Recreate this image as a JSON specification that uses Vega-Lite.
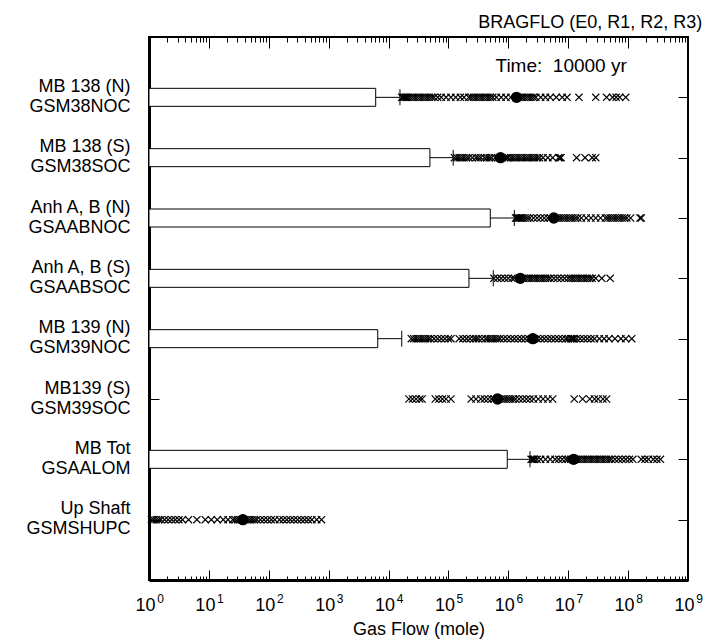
{
  "$schema": "https://vega.github.io/schema/vega-lite/v6.json",
  "width": 539,
  "height": 543,
  "autosize": "none",
  "padding": {"left": 149, "top": 37, "right": 18, "bottom": 59},
  "background": "white",
  "config": {
    "view": {"stroke": "black", "strokeWidth": 2},
    "font": "Liberation Sans",
    "axis": {"grid": false, "labelFont": "Liberation Sans", "titleFont": "Liberation Sans", "labelColor": "black", "titleColor": "black", "tickColor": "black", "domainColor": "black", "labelFontSize": 18, "titleFontSize": 18, "titleFontWeight": "normal"}
  },
  "title": {"text": "BRAGFLO (E0, R1, R2, R3)", "anchor": "end", "fontSize": 18, "fontWeight": "normal", "font": "Liberation Sans", "color": "black", "offset": 5},
  "datasets": {
    "bars": [
      {"row": "MB 138 (N)|GSM38NOC", "bar": 6100, "cap": 15500},
      {"row": "MB 138 (S)|GSM38SOC", "bar": 49000, "cap": 120000},
      {"row": "Anh A, B (N)|GSAABNOC", "bar": 500000, "cap": 1260000},
      {"row": "Anh A, B (S)|GSAABSOC", "bar": 220000, "cap": 560000},
      {"row": "MB 139 (N)|GSM39NOC", "bar": 6600, "cap": 16600},
      {"row": "MB Tot|GSAALOM", "bar": 960000, "cap": 2300000}
    ],
    "means": [
      {"row": "MB 138 (N)|GSM38NOC", "mean": 1370000},
      {"row": "MB 138 (S)|GSM38SOC", "mean": 740000},
      {"row": "Anh A, B (N)|GSAABNOC", "mean": 5750000},
      {"row": "Anh A, B (S)|GSAABSOC", "mean": 1580000},
      {"row": "MB 139 (N)|GSM39NOC", "mean": 2570000},
      {"row": "MB139 (S)|GSM39SOC", "mean": 660000},
      {"row": "MB Tot|GSAALOM", "mean": 12300000},
      {"row": "Up Shaft|GSMSHUPC", "mean": 37}
    ],
    "pts": [
      {"row": "MB 138 (N)|GSM38NOC", "flow": 1.66e4},
      {"row": "MB 138 (N)|GSM38NOC", "flow": 1.74e4},
      {"row": "MB 138 (N)|GSM38NOC", "flow": 1.82e4},
      {"row": "MB 138 (N)|GSM38NOC", "flow": 1.91e4},
      {"row": "MB 138 (N)|GSM38NOC", "flow": 2.00e4},
      {"row": "MB 138 (N)|GSM38NOC", "flow": 2.09e4},
      {"row": "MB 138 (N)|GSM38NOC", "flow": 2.29e4},
      {"row": "MB 138 (N)|GSM38NOC", "flow": 2.51e4},
      {"row": "MB 138 (N)|GSM38NOC", "flow": 2.75e4},
      {"row": "MB 138 (N)|GSM38NOC", "flow": 3.02e4},
      {"row": "MB 138 (N)|GSM38NOC", "flow": 3.31e4},
      {"row": "MB 138 (N)|GSM38NOC", "flow": 3.63e4},
      {"row": "MB 138 (N)|GSM38NOC", "flow": 3.98e4},
      {"row": "MB 138 (N)|GSM38NOC", "flow": 4.37e4},
      {"row": "MB 138 (N)|GSM38NOC", "flow": 4.79e4},
      {"row": "MB 138 (N)|GSM38NOC", "flow": 5.25e4},
      {"row": "MB 138 (N)|GSM38NOC", "flow": 5.75e4},
      {"row": "MB 138 (N)|GSM38NOC", "flow": 6.61e4},
      {"row": "MB 138 (N)|GSM38NOC", "flow": 7.59e4},
      {"row": "MB 138 (N)|GSM38NOC", "flow": 9.12e4},
      {"row": "MB 138 (N)|GSM38NOC", "flow": 1.10e5},
      {"row": "MB 138 (N)|GSM38NOC", "flow": 1.32e5},
      {"row": "MB 138 (N)|GSM38NOC", "flow": 1.58e5},
      {"row": "MB 138 (N)|GSM38NOC", "flow": 1.82e5},
      {"row": "MB 138 (N)|GSM38NOC", "flow": 2.19e5},
      {"row": "MB 138 (N)|GSM38NOC", "flow": 2.40e5},
      {"row": "MB 138 (N)|GSM38NOC", "flow": 2.63e5},
      {"row": "MB 138 (N)|GSM38NOC", "flow": 2.88e5},
      {"row": "MB 138 (N)|GSM38NOC", "flow": 3.16e5},
      {"row": "MB 138 (N)|GSM38NOC", "flow": 3.47e5},
      {"row": "MB 138 (N)|GSM38NOC", "flow": 3.80e5},
      {"row": "MB 138 (N)|GSM38NOC", "flow": 4.17e5},
      {"row": "MB 138 (N)|GSM38NOC", "flow": 4.57e5},
      {"row": "MB 138 (N)|GSM38NOC", "flow": 5.01e5},
      {"row": "MB 138 (N)|GSM38NOC", "flow": 5.50e5},
      {"row": "MB 138 (N)|GSM38NOC", "flow": 6.31e5},
      {"row": "MB 138 (N)|GSM38NOC", "flow": 7.59e5},
      {"row": "MB 138 (N)|GSM38NOC", "flow": 9.12e5},
      {"row": "MB 138 (N)|GSM38NOC", "flow": 1.10e6},
      {"row": "MB 138 (N)|GSM38NOC", "flow": 1.51e6},
      {"row": "MB 138 (N)|GSM38NOC", "flow": 1.66e6},
      {"row": "MB 138 (N)|GSM38NOC", "flow": 1.82e6},
      {"row": "MB 138 (N)|GSM38NOC", "flow": 2.00e6},
      {"row": "MB 138 (N)|GSM38NOC", "flow": 2.19e6},
      {"row": "MB 138 (N)|GSM38NOC", "flow": 2.40e6},
      {"row": "MB 138 (N)|GSM38NOC", "flow": 2.63e6},
      {"row": "MB 138 (N)|GSM38NOC", "flow": 2.88e6},
      {"row": "MB 138 (N)|GSM38NOC", "flow": 3.47e6},
      {"row": "MB 138 (N)|GSM38NOC", "flow": 4.17e6},
      {"row": "MB 138 (N)|GSM38NOC", "flow": 5.01e6},
      {"row": "MB 138 (N)|GSM38NOC", "flow": 6.31e6},
      {"row": "MB 138 (N)|GSM38NOC", "flow": 7.94e6},
      {"row": "MB 138 (N)|GSM38NOC", "flow": 9.55e6},
      {"row": "MB 138 (N)|GSM38NOC", "flow": 1.51e7},
      {"row": "MB 138 (N)|GSM38NOC", "flow": 2.88e7},
      {"row": "MB 138 (N)|GSM38NOC", "flow": 4.37e7},
      {"row": "MB 138 (N)|GSM38NOC", "flow": 5.50e7},
      {"row": "MB 138 (N)|GSM38NOC", "flow": 6.31e7},
      {"row": "MB 138 (N)|GSM38NOC", "flow": 7.24e7},
      {"row": "MB 138 (N)|GSM38NOC", "flow": 9.12e7},

      {"row": "MB 138 (S)|GSM38SOC", "flow": 1.26e5},
      {"row": "MB 138 (S)|GSM38SOC", "flow": 1.38e5},
      {"row": "MB 138 (S)|GSM38SOC", "flow": 1.51e5},
      {"row": "MB 138 (S)|GSM38SOC", "flow": 1.66e5},
      {"row": "MB 138 (S)|GSM38SOC", "flow": 1.82e5},
      {"row": "MB 138 (S)|GSM38SOC", "flow": 2.00e5},
      {"row": "MB 138 (S)|GSM38SOC", "flow": 2.19e5},
      {"row": "MB 138 (S)|GSM38SOC", "flow": 2.51e5},
      {"row": "MB 138 (S)|GSM38SOC", "flow": 2.88e5},
      {"row": "MB 138 (S)|GSM38SOC", "flow": 3.16e5},
      {"row": "MB 138 (S)|GSM38SOC", "flow": 3.47e5},
      {"row": "MB 138 (S)|GSM38SOC", "flow": 3.98e5},
      {"row": "MB 138 (S)|GSM38SOC", "flow": 4.37e5},
      {"row": "MB 138 (S)|GSM38SOC", "flow": 4.79e5},
      {"row": "MB 138 (S)|GSM38SOC", "flow": 5.25e5},
      {"row": "MB 138 (S)|GSM38SOC", "flow": 6.03e5},
      {"row": "MB 138 (S)|GSM38SOC", "flow": 6.61e5},
      {"row": "MB 138 (S)|GSM38SOC", "flow": 8.71e5},
      {"row": "MB 138 (S)|GSM38SOC", "flow": 9.55e5},
      {"row": "MB 138 (S)|GSM38SOC", "flow": 1.00e6},
      {"row": "MB 138 (S)|GSM38SOC", "flow": 1.10e6},
      {"row": "MB 138 (S)|GSM38SOC", "flow": 1.20e6},
      {"row": "MB 138 (S)|GSM38SOC", "flow": 1.32e6},
      {"row": "MB 138 (S)|GSM38SOC", "flow": 1.45e6},
      {"row": "MB 138 (S)|GSM38SOC", "flow": 1.58e6},
      {"row": "MB 138 (S)|GSM38SOC", "flow": 1.74e6},
      {"row": "MB 138 (S)|GSM38SOC", "flow": 1.91e6},
      {"row": "MB 138 (S)|GSM38SOC", "flow": 2.09e6},
      {"row": "MB 138 (S)|GSM38SOC", "flow": 2.29e6},
      {"row": "MB 138 (S)|GSM38SOC", "flow": 2.51e6},
      {"row": "MB 138 (S)|GSM38SOC", "flow": 2.75e6},
      {"row": "MB 138 (S)|GSM38SOC", "flow": 3.02e6},
      {"row": "MB 138 (S)|GSM38SOC", "flow": 3.31e6},
      {"row": "MB 138 (S)|GSM38SOC", "flow": 3.80e6},
      {"row": "MB 138 (S)|GSM38SOC", "flow": 4.57e6},
      {"row": "MB 138 (S)|GSM38SOC", "flow": 5.50e6},
      {"row": "MB 138 (S)|GSM38SOC", "flow": 6.92e6},
      {"row": "MB 138 (S)|GSM38SOC", "flow": 7.24e6},
      {"row": "MB 138 (S)|GSM38SOC", "flow": 7.59e6},
      {"row": "MB 138 (S)|GSM38SOC", "flow": 1.38e7},
      {"row": "MB 138 (S)|GSM38SOC", "flow": 1.91e7},
      {"row": "MB 138 (S)|GSM38SOC", "flow": 2.51e7},
      {"row": "MB 138 (S)|GSM38SOC", "flow": 2.88e7},

      {"row": "Anh A, B (N)|GSAABNOC", "flow": 1.32e6},
      {"row": "Anh A, B (N)|GSAABNOC", "flow": 1.38e6},
      {"row": "Anh A, B (N)|GSAABNOC", "flow": 1.45e6},
      {"row": "Anh A, B (N)|GSAABNOC", "flow": 1.51e6},
      {"row": "Anh A, B (N)|GSAABNOC", "flow": 1.58e6},
      {"row": "Anh A, B (N)|GSAABNOC", "flow": 1.66e6},
      {"row": "Anh A, B (N)|GSAABNOC", "flow": 1.74e6},
      {"row": "Anh A, B (N)|GSAABNOC", "flow": 1.91e6},
      {"row": "Anh A, B (N)|GSAABNOC", "flow": 2.09e6},
      {"row": "Anh A, B (N)|GSAABNOC", "flow": 2.29e6},
      {"row": "Anh A, B (N)|GSAABNOC", "flow": 2.63e6},
      {"row": "Anh A, B (N)|GSAABNOC", "flow": 3.02e6},
      {"row": "Anh A, B (N)|GSAABNOC", "flow": 3.47e6},
      {"row": "Anh A, B (N)|GSAABNOC", "flow": 3.98e6},
      {"row": "Anh A, B (N)|GSAABNOC", "flow": 4.57e6},
      {"row": "Anh A, B (N)|GSAABNOC", "flow": 5.01e6},
      {"row": "Anh A, B (N)|GSAABNOC", "flow": 6.31e6},
      {"row": "Anh A, B (N)|GSAABNOC", "flow": 6.92e6},
      {"row": "Anh A, B (N)|GSAABNOC", "flow": 7.59e6},
      {"row": "Anh A, B (N)|GSAABNOC", "flow": 8.32e6},
      {"row": "Anh A, B (N)|GSAABNOC", "flow": 9.12e6},
      {"row": "Anh A, B (N)|GSAABNOC", "flow": 1.00e7},
      {"row": "Anh A, B (N)|GSAABNOC", "flow": 1.10e7},
      {"row": "Anh A, B (N)|GSAABNOC", "flow": 1.20e7},
      {"row": "Anh A, B (N)|GSAABNOC", "flow": 1.32e7},
      {"row": "Anh A, B (N)|GSAABNOC", "flow": 1.45e7},
      {"row": "Anh A, B (N)|GSAABNOC", "flow": 1.66e7},
      {"row": "Anh A, B (N)|GSAABNOC", "flow": 2.00e7},
      {"row": "Anh A, B (N)|GSAABNOC", "flow": 2.40e7},
      {"row": "Anh A, B (N)|GSAABNOC", "flow": 2.88e7},
      {"row": "Anh A, B (N)|GSAABNOC", "flow": 3.47e7},
      {"row": "Anh A, B (N)|GSAABNOC", "flow": 4.17e7},
      {"row": "Anh A, B (N)|GSAABNOC", "flow": 4.57e7},
      {"row": "Anh A, B (N)|GSAABNOC", "flow": 5.01e7},
      {"row": "Anh A, B (N)|GSAABNOC", "flow": 5.50e7},
      {"row": "Anh A, B (N)|GSAABNOC", "flow": 6.03e7},
      {"row": "Anh A, B (N)|GSAABNOC", "flow": 6.61e7},
      {"row": "Anh A, B (N)|GSAABNOC", "flow": 7.24e7},
      {"row": "Anh A, B (N)|GSAABNOC", "flow": 7.94e7},
      {"row": "Anh A, B (N)|GSAABNOC", "flow": 8.71e7},
      {"row": "Anh A, B (N)|GSAABNOC", "flow": 9.55e7},
      {"row": "Anh A, B (N)|GSAABNOC", "flow": 1.10e8},
      {"row": "Anh A, B (N)|GSAABNOC", "flow": 1.58e8},
      {"row": "Anh A, B (N)|GSAABNOC", "flow": 1.66e8},

      {"row": "Anh A, B (S)|GSAABSOC", "flow": 5.75e5},
      {"row": "Anh A, B (S)|GSAABSOC", "flow": 6.61e5},
      {"row": "Anh A, B (S)|GSAABSOC", "flow": 7.59e5},
      {"row": "Anh A, B (S)|GSAABSOC", "flow": 8.71e5},
      {"row": "Anh A, B (S)|GSAABSOC", "flow": 1.00e6},
      {"row": "Anh A, B (S)|GSAABSOC", "flow": 1.15e6},
      {"row": "Anh A, B (S)|GSAABSOC", "flow": 1.26e6},
      {"row": "Anh A, B (S)|GSAABSOC", "flow": 1.82e6},
      {"row": "Anh A, B (S)|GSAABSOC", "flow": 2.00e6},
      {"row": "Anh A, B (S)|GSAABSOC", "flow": 2.19e6},
      {"row": "Anh A, B (S)|GSAABSOC", "flow": 2.40e6},
      {"row": "Anh A, B (S)|GSAABSOC", "flow": 2.63e6},
      {"row": "Anh A, B (S)|GSAABSOC", "flow": 2.88e6},
      {"row": "Anh A, B (S)|GSAABSOC", "flow": 3.16e6},
      {"row": "Anh A, B (S)|GSAABSOC", "flow": 3.47e6},
      {"row": "Anh A, B (S)|GSAABSOC", "flow": 3.80e6},
      {"row": "Anh A, B (S)|GSAABSOC", "flow": 4.17e6},
      {"row": "Anh A, B (S)|GSAABSOC", "flow": 4.57e6},
      {"row": "Anh A, B (S)|GSAABSOC", "flow": 5.01e6},
      {"row": "Anh A, B (S)|GSAABSOC", "flow": 5.75e6},
      {"row": "Anh A, B (S)|GSAABSOC", "flow": 6.61e6},
      {"row": "Anh A, B (S)|GSAABSOC", "flow": 7.59e6},
      {"row": "Anh A, B (S)|GSAABSOC", "flow": 8.71e6},
      {"row": "Anh A, B (S)|GSAABSOC", "flow": 1.00e7},
      {"row": "Anh A, B (S)|GSAABSOC", "flow": 1.10e7},
      {"row": "Anh A, B (S)|GSAABSOC", "flow": 1.20e7},
      {"row": "Anh A, B (S)|GSAABSOC", "flow": 1.32e7},
      {"row": "Anh A, B (S)|GSAABSOC", "flow": 1.45e7},
      {"row": "Anh A, B (S)|GSAABSOC", "flow": 1.58e7},
      {"row": "Anh A, B (S)|GSAABSOC", "flow": 1.74e7},
      {"row": "Anh A, B (S)|GSAABSOC", "flow": 1.91e7},
      {"row": "Anh A, B (S)|GSAABSOC", "flow": 2.09e7},
      {"row": "Anh A, B (S)|GSAABSOC", "flow": 2.29e7},
      {"row": "Anh A, B (S)|GSAABSOC", "flow": 2.51e7},
      {"row": "Anh A, B (S)|GSAABSOC", "flow": 2.88e7},
      {"row": "Anh A, B (S)|GSAABSOC", "flow": 3.63e7},
      {"row": "Anh A, B (S)|GSAABSOC", "flow": 5.01e7},

      {"row": "MB 139 (N)|GSM39NOC", "flow": 2.40e4},
      {"row": "MB 139 (N)|GSM39NOC", "flow": 2.63e4},
      {"row": "MB 139 (N)|GSM39NOC", "flow": 2.88e4},
      {"row": "MB 139 (N)|GSM39NOC", "flow": 3.16e4},
      {"row": "MB 139 (N)|GSM39NOC", "flow": 3.47e4},
      {"row": "MB 139 (N)|GSM39NOC", "flow": 3.80e4},
      {"row": "MB 139 (N)|GSM39NOC", "flow": 4.17e4},
      {"row": "MB 139 (N)|GSM39NOC", "flow": 4.57e4},
      {"row": "MB 139 (N)|GSM39NOC", "flow": 5.01e4},
      {"row": "MB 139 (N)|GSM39NOC", "flow": 5.75e4},
      {"row": "MB 139 (N)|GSM39NOC", "flow": 6.61e4},
      {"row": "MB 139 (N)|GSM39NOC", "flow": 7.59e4},
      {"row": "MB 139 (N)|GSM39NOC", "flow": 8.71e4},
      {"row": "MB 139 (N)|GSM39NOC", "flow": 1.00e5},
      {"row": "MB 139 (N)|GSM39NOC", "flow": 1.10e5},
      {"row": "MB 139 (N)|GSM39NOC", "flow": 1.51e5},
      {"row": "MB 139 (N)|GSM39NOC", "flow": 1.74e5},
      {"row": "MB 139 (N)|GSM39NOC", "flow": 2.00e5},
      {"row": "MB 139 (N)|GSM39NOC", "flow": 2.29e5},
      {"row": "MB 139 (N)|GSM39NOC", "flow": 2.63e5},
      {"row": "MB 139 (N)|GSM39NOC", "flow": 2.88e5},
      {"row": "MB 139 (N)|GSM39NOC", "flow": 3.16e5},
      {"row": "MB 139 (N)|GSM39NOC", "flow": 3.63e5},
      {"row": "MB 139 (N)|GSM39NOC", "flow": 4.17e5},
      {"row": "MB 139 (N)|GSM39NOC", "flow": 4.57e5},
      {"row": "MB 139 (N)|GSM39NOC", "flow": 5.01e5},
      {"row": "MB 139 (N)|GSM39NOC", "flow": 5.50e5},
      {"row": "MB 139 (N)|GSM39NOC", "flow": 6.03e5},
      {"row": "MB 139 (N)|GSM39NOC", "flow": 6.61e5},
      {"row": "MB 139 (N)|GSM39NOC", "flow": 7.24e5},
      {"row": "MB 139 (N)|GSM39NOC", "flow": 8.32e5},
      {"row": "MB 139 (N)|GSM39NOC", "flow": 9.55e5},
      {"row": "MB 139 (N)|GSM39NOC", "flow": 1.10e6},
      {"row": "MB 139 (N)|GSM39NOC", "flow": 1.26e6},
      {"row": "MB 139 (N)|GSM39NOC", "flow": 1.45e6},
      {"row": "MB 139 (N)|GSM39NOC", "flow": 1.66e6},
      {"row": "MB 139 (N)|GSM39NOC", "flow": 1.91e6},
      {"row": "MB 139 (N)|GSM39NOC", "flow": 2.19e6},
      {"row": "MB 139 (N)|GSM39NOC", "flow": 3.02e6},
      {"row": "MB 139 (N)|GSM39NOC", "flow": 3.47e6},
      {"row": "MB 139 (N)|GSM39NOC", "flow": 3.98e6},
      {"row": "MB 139 (N)|GSM39NOC", "flow": 4.57e6},
      {"row": "MB 139 (N)|GSM39NOC", "flow": 5.25e6},
      {"row": "MB 139 (N)|GSM39NOC", "flow": 6.03e6},
      {"row": "MB 139 (N)|GSM39NOC", "flow": 6.92e6},
      {"row": "MB 139 (N)|GSM39NOC", "flow": 7.94e6},
      {"row": "MB 139 (N)|GSM39NOC", "flow": 9.12e6},
      {"row": "MB 139 (N)|GSM39NOC", "flow": 1.00e7},
      {"row": "MB 139 (N)|GSM39NOC", "flow": 1.10e7},
      {"row": "MB 139 (N)|GSM39NOC", "flow": 1.15e7},
      {"row": "MB 139 (N)|GSM39NOC", "flow": 1.20e7},
      {"row": "MB 139 (N)|GSM39NOC", "flow": 1.26e7},
      {"row": "MB 139 (N)|GSM39NOC", "flow": 1.38e7},
      {"row": "MB 139 (N)|GSM39NOC", "flow": 1.58e7},
      {"row": "MB 139 (N)|GSM39NOC", "flow": 1.82e7},
      {"row": "MB 139 (N)|GSM39NOC", "flow": 2.09e7},
      {"row": "MB 139 (N)|GSM39NOC", "flow": 2.40e7},
      {"row": "MB 139 (N)|GSM39NOC", "flow": 2.75e7},
      {"row": "MB 139 (N)|GSM39NOC", "flow": 3.31e7},
      {"row": "MB 139 (N)|GSM39NOC", "flow": 3.98e7},
      {"row": "MB 139 (N)|GSM39NOC", "flow": 4.79e7},
      {"row": "MB 139 (N)|GSM39NOC", "flow": 6.03e7},
      {"row": "MB 139 (N)|GSM39NOC", "flow": 7.59e7},
      {"row": "MB 139 (N)|GSM39NOC", "flow": 9.12e7},
      {"row": "MB 139 (N)|GSM39NOC", "flow": 1.15e8},

      {"row": "MB139 (S)|GSM39SOC", "flow": 2.19e4},
      {"row": "MB139 (S)|GSM39SOC", "flow": 2.51e4},
      {"row": "MB139 (S)|GSM39SOC", "flow": 2.88e4},
      {"row": "MB139 (S)|GSM39SOC", "flow": 3.31e4},
      {"row": "MB139 (S)|GSM39SOC", "flow": 3.63e4},
      {"row": "MB139 (S)|GSM39SOC", "flow": 6.03e4},
      {"row": "MB139 (S)|GSM39SOC", "flow": 6.92e4},
      {"row": "MB139 (S)|GSM39SOC", "flow": 7.94e4},
      {"row": "MB139 (S)|GSM39SOC", "flow": 9.12e4},
      {"row": "MB139 (S)|GSM39SOC", "flow": 1.10e5},
      {"row": "MB139 (S)|GSM39SOC", "flow": 2.40e5},
      {"row": "MB139 (S)|GSM39SOC", "flow": 2.88e5},
      {"row": "MB139 (S)|GSM39SOC", "flow": 3.47e5},
      {"row": "MB139 (S)|GSM39SOC", "flow": 3.98e5},
      {"row": "MB139 (S)|GSM39SOC", "flow": 4.57e5},
      {"row": "MB139 (S)|GSM39SOC", "flow": 5.25e5},
      {"row": "MB139 (S)|GSM39SOC", "flow": 5.75e5},
      {"row": "MB139 (S)|GSM39SOC", "flow": 7.59e5},
      {"row": "MB139 (S)|GSM39SOC", "flow": 8.32e5},
      {"row": "MB139 (S)|GSM39SOC", "flow": 9.12e5},
      {"row": "MB139 (S)|GSM39SOC", "flow": 1.00e6},
      {"row": "MB139 (S)|GSM39SOC", "flow": 1.10e6},
      {"row": "MB139 (S)|GSM39SOC", "flow": 1.20e6},
      {"row": "MB139 (S)|GSM39SOC", "flow": 1.32e6},
      {"row": "MB139 (S)|GSM39SOC", "flow": 1.51e6},
      {"row": "MB139 (S)|GSM39SOC", "flow": 1.74e6},
      {"row": "MB139 (S)|GSM39SOC", "flow": 2.00e6},
      {"row": "MB139 (S)|GSM39SOC", "flow": 2.29e6},
      {"row": "MB139 (S)|GSM39SOC", "flow": 2.63e6},
      {"row": "MB139 (S)|GSM39SOC", "flow": 3.16e6},
      {"row": "MB139 (S)|GSM39SOC", "flow": 3.80e6},
      {"row": "MB139 (S)|GSM39SOC", "flow": 4.57e6},
      {"row": "MB139 (S)|GSM39SOC", "flow": 5.50e6},
      {"row": "MB139 (S)|GSM39SOC", "flow": 1.26e7},
      {"row": "MB139 (S)|GSM39SOC", "flow": 1.74e7},
      {"row": "MB139 (S)|GSM39SOC", "flow": 2.29e7},
      {"row": "MB139 (S)|GSM39SOC", "flow": 2.75e7},
      {"row": "MB139 (S)|GSM39SOC", "flow": 3.16e7},
      {"row": "MB139 (S)|GSM39SOC", "flow": 3.80e7},
      {"row": "MB139 (S)|GSM39SOC", "flow": 4.37e7},

      {"row": "MB Tot|GSAALOM", "flow": 2.40e6},
      {"row": "MB Tot|GSAALOM", "flow": 2.51e6},
      {"row": "MB Tot|GSAALOM", "flow": 2.63e6},
      {"row": "MB Tot|GSAALOM", "flow": 2.75e6},
      {"row": "MB Tot|GSAALOM", "flow": 3.02e6},
      {"row": "MB Tot|GSAALOM", "flow": 3.47e6},
      {"row": "MB Tot|GSAALOM", "flow": 4.17e6},
      {"row": "MB Tot|GSAALOM", "flow": 5.01e6},
      {"row": "MB Tot|GSAALOM", "flow": 6.03e6},
      {"row": "MB Tot|GSAALOM", "flow": 6.92e6},
      {"row": "MB Tot|GSAALOM", "flow": 7.94e6},
      {"row": "MB Tot|GSAALOM", "flow": 9.12e6},
      {"row": "MB Tot|GSAALOM", "flow": 1.00e7},
      {"row": "MB Tot|GSAALOM", "flow": 1.10e7},
      {"row": "MB Tot|GSAALOM", "flow": 1.32e7},
      {"row": "MB Tot|GSAALOM", "flow": 1.45e7},
      {"row": "MB Tot|GSAALOM", "flow": 1.58e7},
      {"row": "MB Tot|GSAALOM", "flow": 1.74e7},
      {"row": "MB Tot|GSAALOM", "flow": 1.91e7},
      {"row": "MB Tot|GSAALOM", "flow": 2.09e7},
      {"row": "MB Tot|GSAALOM", "flow": 2.29e7},
      {"row": "MB Tot|GSAALOM", "flow": 2.51e7},
      {"row": "MB Tot|GSAALOM", "flow": 2.75e7},
      {"row": "MB Tot|GSAALOM", "flow": 3.02e7},
      {"row": "MB Tot|GSAALOM", "flow": 3.31e7},
      {"row": "MB Tot|GSAALOM", "flow": 3.63e7},
      {"row": "MB Tot|GSAALOM", "flow": 3.98e7},
      {"row": "MB Tot|GSAALOM", "flow": 4.37e7},
      {"row": "MB Tot|GSAALOM", "flow": 4.79e7},
      {"row": "MB Tot|GSAALOM", "flow": 5.25e7},
      {"row": "MB Tot|GSAALOM", "flow": 6.03e7},
      {"row": "MB Tot|GSAALOM", "flow": 6.92e7},
      {"row": "MB Tot|GSAALOM", "flow": 7.94e7},
      {"row": "MB Tot|GSAALOM", "flow": 9.12e7},
      {"row": "MB Tot|GSAALOM", "flow": 1.05e8},
      {"row": "MB Tot|GSAALOM", "flow": 1.20e8},
      {"row": "MB Tot|GSAALOM", "flow": 1.66e8},
      {"row": "MB Tot|GSAALOM", "flow": 1.91e8},
      {"row": "MB Tot|GSAALOM", "flow": 2.19e8},
      {"row": "MB Tot|GSAALOM", "flow": 2.63e8},
      {"row": "MB Tot|GSAALOM", "flow": 3.02e8},
      {"row": "MB Tot|GSAALOM", "flow": 3.47e8},

      {"row": "Up Shaft|GSMSHUPC", "flow": 1.10},
      {"row": "Up Shaft|GSMSHUPC", "flow": 1.20},
      {"row": "Up Shaft|GSMSHUPC", "flow": 1.32},
      {"row": "Up Shaft|GSMSHUPC", "flow": 1.45},
      {"row": "Up Shaft|GSMSHUPC", "flow": 1.58},
      {"row": "Up Shaft|GSMSHUPC", "flow": 1.82},
      {"row": "Up Shaft|GSMSHUPC", "flow": 2.09},
      {"row": "Up Shaft|GSMSHUPC", "flow": 2.40},
      {"row": "Up Shaft|GSMSHUPC", "flow": 2.75},
      {"row": "Up Shaft|GSMSHUPC", "flow": 3.16},
      {"row": "Up Shaft|GSMSHUPC", "flow": 3.63},
      {"row": "Up Shaft|GSMSHUPC", "flow": 4.57},
      {"row": "Up Shaft|GSMSHUPC", "flow": 6.31},
      {"row": "Up Shaft|GSMSHUPC", "flow": 8.71},
      {"row": "Up Shaft|GSMSHUPC", "flow": 11.0},
      {"row": "Up Shaft|GSMSHUPC", "flow": 13.8},
      {"row": "Up Shaft|GSMSHUPC", "flow": 17.4},
      {"row": "Up Shaft|GSMSHUPC", "flow": 20.9},
      {"row": "Up Shaft|GSMSHUPC", "flow": 25.1},
      {"row": "Up Shaft|GSMSHUPC", "flow": 27.5},
      {"row": "Up Shaft|GSMSHUPC", "flow": 30.2},
      {"row": "Up Shaft|GSMSHUPC", "flow": 33.1},
      {"row": "Up Shaft|GSMSHUPC", "flow": 36.3},
      {"row": "Up Shaft|GSMSHUPC", "flow": 39.8},
      {"row": "Up Shaft|GSMSHUPC", "flow": 43.7},
      {"row": "Up Shaft|GSMSHUPC", "flow": 47.9},
      {"row": "Up Shaft|GSMSHUPC", "flow": 52.5},
      {"row": "Up Shaft|GSMSHUPC", "flow": 57.5},
      {"row": "Up Shaft|GSMSHUPC", "flow": 63.1},
      {"row": "Up Shaft|GSMSHUPC", "flow": 72.4},
      {"row": "Up Shaft|GSMSHUPC", "flow": 83.2},
      {"row": "Up Shaft|GSMSHUPC", "flow": 95.5},
      {"row": "Up Shaft|GSMSHUPC", "flow": 110},
      {"row": "Up Shaft|GSMSHUPC", "flow": 126},
      {"row": "Up Shaft|GSMSHUPC", "flow": 151},
      {"row": "Up Shaft|GSMSHUPC", "flow": 174},
      {"row": "Up Shaft|GSMSHUPC", "flow": 200},
      {"row": "Up Shaft|GSMSHUPC", "flow": 229},
      {"row": "Up Shaft|GSMSHUPC", "flow": 263},
      {"row": "Up Shaft|GSMSHUPC", "flow": 302},
      {"row": "Up Shaft|GSMSHUPC", "flow": 347},
      {"row": "Up Shaft|GSMSHUPC", "flow": 398},
      {"row": "Up Shaft|GSMSHUPC", "flow": 457},
      {"row": "Up Shaft|GSMSHUPC", "flow": 525},
      {"row": "Up Shaft|GSMSHUPC", "flow": 631},
      {"row": "Up Shaft|GSMSHUPC", "flow": 759}
    ]
  },
  "resolve": {"axis": {"x": "independent", "y": "independent"}},
  "layer": [
    {
      "data": {"name": "bars"},
      "mark": {"type": "bar", "fill": "white", "stroke": "black", "strokeWidth": 1, "size": 18},
      "encoding": {
        "y": {
          "field": "row", "type": "nominal",
          "scale": {"type": "point", "padding": 1, "domain": ["MB 138 (N)|GSM38NOC", "MB 138 (S)|GSM38SOC", "Anh A, B (N)|GSAABNOC", "Anh A, B (S)|GSAABSOC", "MB 139 (N)|GSM39NOC", "MB139 (S)|GSM39SOC", "MB Tot|GSAALOM", "Up Shaft|GSMSHUPC"]},
          "axis": {"orient": "left", "title": null, "domain": true, "domainWidth": 3, "domainColor": "black", "tickSize": -10, "tickWidth": 1, "labelPadding": 29, "labelExpr": "split(datum.label, '|')", "labelLineHeight": 20, "labelAlign": "right", "labelBaseline": "middle", "labelOffset": -11, "labelFontSize": 18}
        },
        "x": {
          "field": "bar", "type": "quantitative",
          "scale": {"type": "log", "domain": [1, 1000000000], "nice": false},
          "axis": {
            "orient": "bottom", "title": "Gas Flow (mole)", "titlePadding": 0,
            "domain": true, "domainWidth": 3,
            "values": [1,2,3,4,5,6,7,8,9,10,20,30,40,50,60,70,80,90,100,200,300,400,500,600,700,800,900,1000,2000,3000,4000,5000,6000,7000,8000,9000,10000,20000,30000,40000,50000,60000,70000,80000,90000,100000,200000,300000,400000,500000,600000,700000,800000,900000,1000000,2000000,3000000,4000000,5000000,6000000,7000000,8000000,9000000,10000000,20000000,30000000,40000000,50000000,60000000,70000000,80000000,90000000,100000000,200000000,300000000,400000000,500000000,600000000,700000000,800000000,900000000,1000000000],
            "tickSize": {"condition": {"test": "indexof([1,10,100,1000,10000,100000,1000000,10000000,100000000,1000000000], datum.value) >= 0", "value": -10}, "value": -4},
            "tickWidth": 1,
            "labelExpr": "indexof([1,10,100,1000,10000,100000,1000000,10000000,100000000,1000000000], datum.value) >= 0 ? '10' : ''",
            "labelOverlap": false, "labelFlush": false, "labelOffset": -4, "labelPadding": 26, "labelBaseline": "top", "labelFontSize": 18
          }
        },
        "x2": {"datum": 1}
      }
    },
    {
      "data": {"name": "bars"},
      "mark": {"type": "rule", "color": "black", "strokeWidth": 1},
      "encoding": {
        "x": {"field": "bar", "type": "quantitative", "axis": null},
        "x2": {"field": "cap"},
        "y": {"field": "row", "type": "nominal", "axis": null}
      }
    },
    {
      "data": {"name": "bars"},
      "mark": {"type": "tick", "color": "black", "thickness": 1, "size": 16, "orient": "vertical", "opacity": 1},
      "encoding": {
        "x": {"field": "cap", "type": "quantitative", "axis": null},
        "y": {"field": "row", "type": "nominal", "axis": null}
      }
    },
    {
      "data": {"name": "pts"},
      "mark": {"type": "point", "shape": "M-1,-1L1,1M-1,1L1,-1", "filled": false, "stroke": "black", "strokeWidth": 1.2, "size": 52, "opacity": 1},
      "encoding": {
        "x": {
          "field": "flow", "type": "quantitative",
          "axis": {
            "orient": "top", "title": null, "labels": false, "domain": false,
            "values": [1,2,3,4,5,6,7,8,9,10,20,30,40,50,60,70,80,90,100,200,300,400,500,600,700,800,900,1000,2000,3000,4000,5000,6000,7000,8000,9000,10000,20000,30000,40000,50000,60000,70000,80000,90000,100000,200000,300000,400000,500000,600000,700000,800000,900000,1000000,2000000,3000000,4000000,5000000,6000000,7000000,8000000,9000000,10000000,20000000,30000000,40000000,50000000,60000000,70000000,80000000,90000000,100000000,200000000,300000000,400000000,500000000,600000000,700000000,800000000,900000000,1000000000],
            "tickSize": {"condition": {"test": "indexof([1,10,100,1000,10000,100000,1000000,10000000,100000000,1000000000], datum.value) >= 0", "value": -11}, "value": -5},
            "tickWidth": 1
          }
        },
        "y": {
          "field": "row", "type": "nominal",
          "axis": {"orient": "right", "title": null, "labels": false, "domain": false, "tickSize": -10, "tickWidth": 1}
        }
      }
    },
    {
      "data": {"name": "means"},
      "mark": {"type": "point", "shape": "circle", "filled": true, "color": "black", "size": 130, "opacity": 1},
      "encoding": {
        "x": {
          "field": "mean", "type": "quantitative",
          "axis": {
            "orient": "bottom", "title": null, "domain": false, "ticks": false,
            "values": [1,10,100,1000,10000,100000,1000000,10000000,100000000,1000000000],
            "labelExpr": "'' + round(log(datum.value) / LN10)",
            "labelOverlap": false, "labelFlush": false, "labelFontSize": 12, "labelOffset": 11, "labelPadding": 13, "labelBaseline": "top"
          }
        },
        "y": {"field": "row", "type": "nominal", "axis": null}
      }
    },
    {
      "data": {"values": [{"label": "Time:\u00a0 10000 yr"}]},
      "mark": {"type": "text", "align": "right", "baseline": "middle", "fontSize": 19, "font": "Liberation Sans", "color": "black", "dy": -31},
      "encoding": {
        "text": {"field": "label", "type": "nominal"},
        "x": {"datum": 95000000, "type": "quantitative", "axis": null},
        "y": {"datum": "MB 138 (N)|GSM38NOC", "type": "nominal", "axis": null}
      }
    }
  ]
}
